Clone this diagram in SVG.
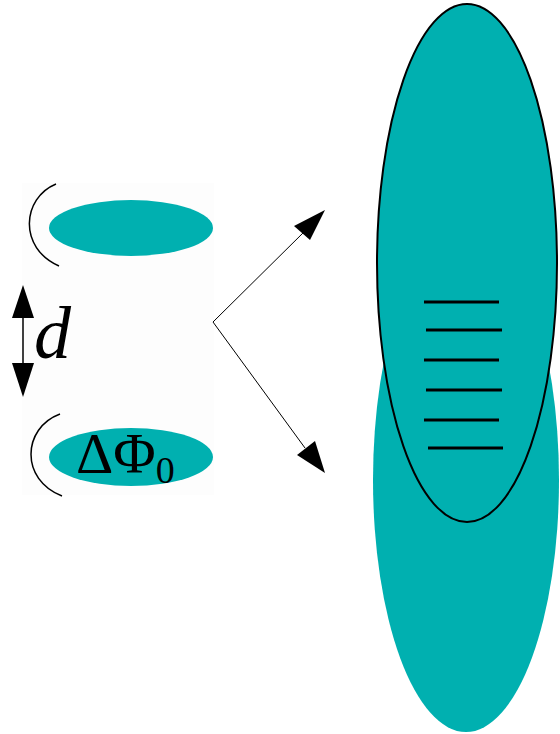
<svg xmlns="http://www.w3.org/2000/svg" width="560" height="734" viewBox="0 0 560 734">
<style>
.teal{fill:#00b0b0}
.ln{stroke:#000;fill:none}
.bar{stroke:#000;stroke-width:3}
.head{fill:#000}
</style>
<rect width="560" height="734" fill="#fff"/>
<rect x="22" y="183" width="192" height="312" fill="#fdfdfd"/>
<g id="beam-top">
<ellipse class="teal" cx="131" cy="228" rx="82" ry="28"/>
<path class="ln" stroke-width="1.5" d="M56,184 C22,198 18,248 59,266"/>
</g>
<g id="beam-bottom">
<ellipse class="teal" cx="131" cy="457" rx="82" ry="29"/>
<path class="ln" stroke-width="1.5" d="M60,414 C22,428 20,480 62,496"/>
<text x="76" y="473" font-family="Liberation Serif, serif" font-size="58">ΔΦ<tspan font-size="38" dy="10">0</tspan></text>
</g>
<g id="separation">
<line class="ln" x1="23" y1="300" x2="23" y2="380" stroke-width="1.5"/>
<polygon class="head" points="23,285 12,318 34,318"/>
<polygon class="head" points="23,397 12,363 34,363"/>
<text x="34" y="358" font-family="Liberation Serif, serif" font-style="italic" font-size="74">d</text>
</g>
<g id="screen">
<ellipse class="teal" cx="466" cy="480" rx="93" ry="252"/>
<ellipse class="teal" cx="467" cy="263" rx="90" ry="259" stroke="#000" stroke-width="2"/>
<g class="bar">
<line x1="424" y1="302" x2="499" y2="302"/>
<line x1="426" y1="330" x2="502" y2="330"/>
<line x1="424" y1="360" x2="499" y2="360"/>
<line x1="426" y1="390" x2="502" y2="390"/>
<line x1="424" y1="420" x2="499" y2="420"/>
<line x1="428" y1="448" x2="503" y2="448"/>
</g>
</g>
<g id="connectors">
<polyline class="ln" stroke-width="1" points="306,230 213,322 305,448"/>
<polygon class="head" points="325,210 310,240 294,226"/>
<polygon class="head" points="325,473 297,455 315,441"/>
</g>
</svg>
